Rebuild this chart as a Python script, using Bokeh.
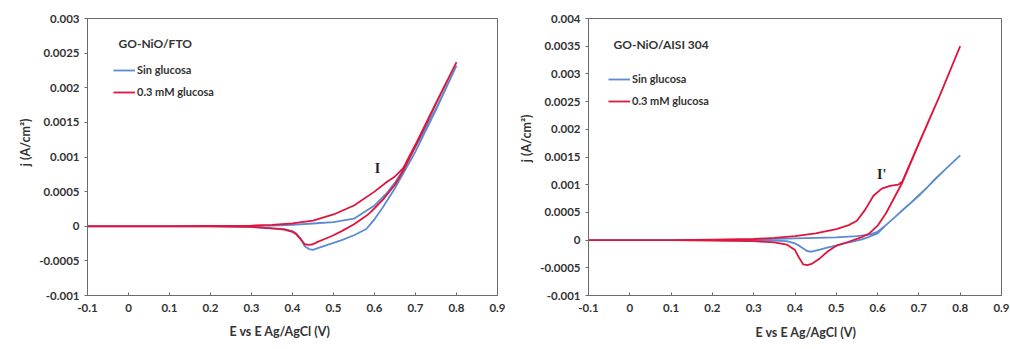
from bokeh.plotting import figure
from bokeh.layouts import row
from bokeh.models import Range1d, FixedTicker, Label, Legend, LegendItem, Title
from bokeh.embed import file_html
from bokeh.resources import INLINE

# ---------------- data ----------------
x_ticks = [-0.1, 0, 0.1, 0.2, 0.3, 0.4, 0.5, 0.6, 0.7, 0.8, 0.9]
x_tick_labels = ["-0.1", "0", "0.1", "0.2", "0.3", "0.4", "0.5", "0.6", "0.7", "0.8", "0.9"]

fto_y_ticks = [-0.001, -0.0005, 0, 0.0005, 0.001, 0.0015, 0.002, 0.0025, 0.003]
fto_y_labels = ["-0.001", "-0.0005", "0", "0.0005", "0.001", "0.0015", "0.002", "0.0025", "0.003"]
ss_y_ticks = [-0.001, -0.0005, 0, 0.0005, 0.001, 0.0015, 0.002, 0.0025, 0.003, 0.0035, 0.004]
ss_y_labels = ["-0.001", "-0.0005", "0", "0.0005", "0.001", "0.0015", "0.002", "0.0025", "0.003", "0.0035", "0.004"]

series_names = ["Sin glucosa", "0.3 mM glucosa"]

# GO-NiO/FTO  (anodic sweep then cathodic sweep)
fto_e_fwd = [-0.1, 0.0, 0.1, 0.2, 0.3, 0.35, 0.4, 0.45, 0.5, 0.55, 0.6, 0.63, 0.65, 0.67, 0.7, 0.75, 0.8]
fto_sin_fwd = [0, 0, 0, 0, 0.000005, 0.00001, 0.00002, 0.00004, 0.00006, 0.00011, 0.0003, 0.00048,
               0.00063, 0.00082, 0.00115, 0.0017, 0.00232]
fto_glu_fwd = [0, 0, 0, 0.000005, 0.00001, 0.00002, 0.00004, 0.00008, 0.00017, 0.0003, 0.0005, 0.00064,
               0.00072, 0.00084, 0.00118, 0.00178, 0.00237]
fto_e_rev = [0.8, 0.75, 0.7, 0.67, 0.65, 0.62, 0.6, 0.59, 0.58, 0.55, 0.52, 0.5, 0.48, 0.46, 0.45, 0.44,
             0.43, 0.42, 0.41, 0.4, 0.38, 0.35, 0.3, 0.2, 0.1, 0.0, -0.1]
fto_sin_rev = [0.00232, 0.00168, 0.00108, 0.00076, 0.00055, 0.00027, 0.0001, 0.00003, -0.00004, -0.00013,
               -0.0002, -0.00024, -0.00028, -0.00032, -0.00034, -0.00033, -0.00029, -0.00018, -0.00011,
               -0.00007, -0.00004, -0.00003, -0.00001, 0, 0, 0, 0]
fto_glu_rev = [0.00237, 0.00177, 0.00116, 0.0008, 0.0006, 0.00038, 0.00026, 0.0002, 0.00015, 0.00003,
               -0.00007, -0.00013, -0.00018, -0.00023, -0.00026, -0.00027, -0.00026, -0.00019, -0.00012,
               -0.00008, -0.00005, -0.00003, -0.00001, 0, 0, 0, 0]

# GO-NiO/AISI 304
ss_e_fwd = [-0.1, 0.0, 0.1, 0.2, 0.3, 0.35, 0.4, 0.45, 0.5, 0.53, 0.55, 0.57, 0.59, 0.61, 0.63, 0.65,
            0.66, 0.7, 0.75, 0.8]
ss_glu_fwd = [0, 0, 0, 0.00001, 0.00002, 0.00004, 0.00007, 0.00012, 0.0002, 0.00027, 0.00035, 0.00055,
              0.0008, 0.00093, 0.00098, 0.001, 0.00106, 0.00175, 0.0026, 0.0035]
ss_e_rev = [0.8, 0.75, 0.7, 0.66, 0.64, 0.62, 0.6, 0.58, 0.56, 0.53, 0.5, 0.48, 0.46, 0.45, 0.44, 0.43,
            0.42, 0.41, 0.4, 0.38, 0.35, 0.3, 0.2, 0.1, 0.0, -0.1]
ss_glu_rev = [0.0035, 0.0026, 0.00174, 0.00104, 0.00076, 0.00048, 0.00026, 0.00012, 0.00005, -0.00003,
              -0.0001, -0.0002, -0.00033, -0.00038, -0.00043, -0.00045, -0.00044, -0.00032, -0.00018,
              -0.00008, -0.00004, -0.00002, -0.00001, 0, 0, 0]
ss_e_sin_fwd = [-0.1, 0.0, 0.1, 0.2, 0.3, 0.4, 0.45, 0.5, 0.55, 0.58, 0.6, 0.62, 0.64, 0.66, 0.68, 0.7,
                0.72, 0.74, 0.76, 0.78, 0.8]
ss_sin_fwd = [0, 0, 0, 0, 0.00001, 0.00003, 0.00004, 0.00005, 0.00007, 0.0001, 0.00015, 0.00027, 0.0004,
              0.00054, 0.00067, 0.0008, 0.00095, 0.00111, 0.00125, 0.00139, 0.00153]
ss_e_sin_rev = [0.8, 0.76, 0.72, 0.68, 0.64, 0.62, 0.6, 0.58, 0.56, 0.52, 0.5, 0.48, 0.46, 0.45, 0.44,
                0.43, 0.42, 0.41, 0.4, 0.38, 0.35, 0.3, 0.2, 0.1, 0.0, -0.1]
ss_sin_rev = [0.00153, 0.00125, 0.00095, 0.00067, 0.0004, 0.00027, 0.00012, 0.00006, 0.00001, -0.00006,
              -0.0001, -0.00013, -0.00017, -0.00019, -0.00021, -0.0002, -0.00015, -0.0001, -0.00006,
              -0.00002, -0.00001, -0.00001, 0, 0, 0, 0]

BLUE = "#5b8bd0"
RED = "#e0143c"
FONT = "Lato"
AXC = "#6a6a6a"
TXT = "#333333"


def make_panel(title, e_sin, j_sin, e_glu, j_glu, y_ticks, y_labels, y_end,
               mb, legend_xy, title_xy, peak_text, peak_xy,
               xt_offset, xt_standoff, yt_offset, yt_standoff):
    p = figure(width=505, height=349, output_backend="svg", toolbar_location=None,
               x_range=Range1d(-0.1, 0.9), y_range=Range1d(-0.001, y_end),
               min_border_left=mb[0], min_border_right=mb[1],
               min_border_top=mb[2], min_border_bottom=mb[3])
    p.grid.visible = False
    p.outline_line_color = AXC
    p.outline_line_width = 1
    p.background_fill_color = "white"
    p.border_fill_color = "white"

    p.xaxis.ticker = FixedTicker(ticks=x_ticks)
    p.xaxis.major_label_overrides = {t: s for t, s in zip(x_ticks, x_tick_labels)}
    p.yaxis.ticker = FixedTicker(ticks=y_ticks)
    p.yaxis.major_label_overrides = {t: s for t, s in zip(y_ticks, y_labels)}
    for ax in (p.xaxis, p.yaxis):
        ax.axis_line_color = AXC
        ax.major_tick_line_color = AXC
        ax.minor_tick_line_color = None
        ax.major_label_text_font = FONT
        ax.major_label_text_font_style = "bold"
        ax.major_label_text_font_size = "11.5px"
        ax.major_label_text_color = TXT
    p.xaxis.major_tick_in = 3
    p.xaxis.major_tick_out = 0
    p.xaxis.major_label_standoff = 8
    p.yaxis.major_tick_in = 0
    p.yaxis.major_tick_out = 3
    p.yaxis.major_label_standoff = 5

    r_sin = p.line(e_sin, j_sin, line_color=BLUE, line_width=1.8)
    r_glu = p.line(e_glu, j_glu, line_color=RED, line_width=1.8)

    leg = Legend(items=[LegendItem(label=series_names[0], renderers=[r_sin]),
                        LegendItem(label=series_names[1], renderers=[r_glu])],
                 location=legend_xy, padding=0, margin=0, spacing=9,
                 glyph_width=22, glyph_height=12, label_height=12, label_standoff=2,
                 label_text_font=FONT, label_text_font_style="bold",
                 label_text_font_size="11px", label_text_color=TXT,
                 background_fill_alpha=0, border_line_alpha=0)
    p.add_layout(leg)

    p.add_layout(Label(x=title_xy[0], y=title_xy[1], text=title, text_font=FONT,
                       text_font_style="bold", text_font_size="12px", text_color=TXT,
                       text_baseline="middle", text_align="left"))
    p.add_layout(Label(x=peak_xy[0], y=peak_xy[1], text=peak_text, text_font="Liberation Serif",
                       text_font_style="bold", text_font_size="14px", text_color="#222222",
                       text_baseline="middle", text_align="center"))

    p.add_layout(Title(text="E vs E Ag/AgCl (V)", align="left", offset=xt_offset,
                       standoff=xt_standoff, text_font=FONT, text_font_style="bold",
                       text_font_size="12.5px", text_color=TXT), "below")
    p.add_layout(Title(text="j (A/cm²)", align="right", offset=yt_offset,
                       standoff=yt_standoff, text_font=FONT, text_font_style="bold",
                       text_font_size="12.5px", text_color=TXT), "left")
    return p


p1 = make_panel("GO-NiO/FTO", fto_e_fwd + fto_e_rev, fto_sin_fwd + fto_sin_rev,
                fto_e_fwd + fto_e_rev, fto_glu_fwd + fto_glu_rev,
                fto_y_ticks, fto_y_labels, 0.003, (87, 8, 14, 54), (26, 197),
                (-0.0244, 0.002640), "I", (0.607, 0.00083),
                142, 14, 100, 8)
p2 = make_panel("GO-NiO/AISI 304", ss_e_sin_fwd + ss_e_sin_rev, ss_sin_fwd + ss_sin_rev,
                ss_e_fwd + ss_e_rev, ss_glu_fwd + ss_glu_rev,
                ss_y_ticks, ss_y_labels, 0.004, (83, 9, 18, 50), (20, 188),
                (-0.0394, 0.003523), "I'", (0.61, 0.00119),
                167, 17, 96, 8)

layout = row(p1, p2)
open("out.html", "w").write(file_html(layout, INLINE))
